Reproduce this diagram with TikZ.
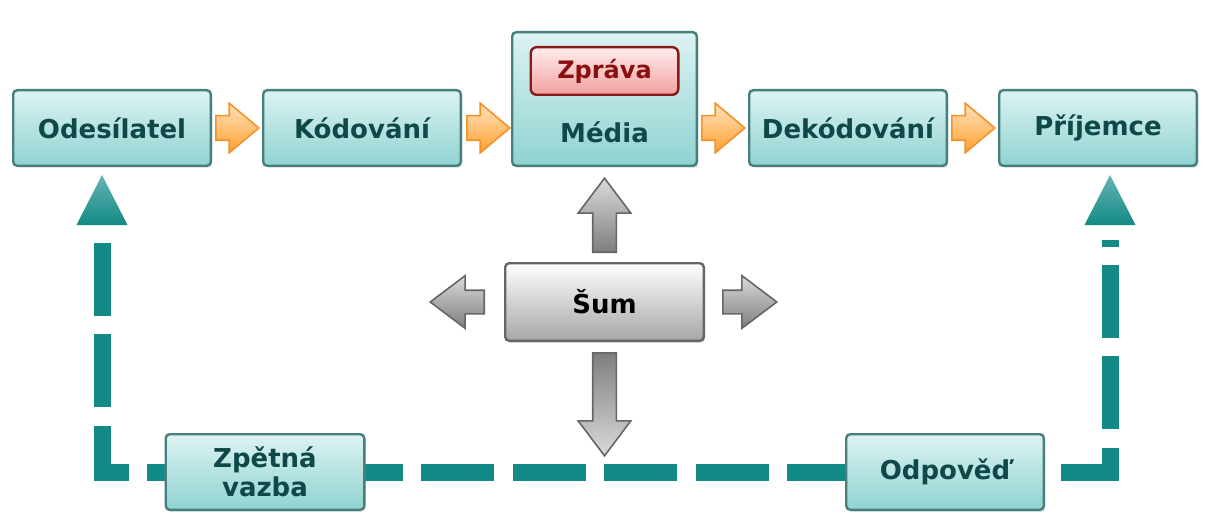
\documentclass[tikz,border=0pt]{standalone}
\usepackage{fontspec}
\setmainfont{DejaVu Sans}
\usetikzlibrary{positioning,shapes.arrows,backgrounds,shadows}

\definecolor{boxtop}{HTML}{DDF3F2}
\definecolor{boxbot}{HTML}{8FD3D1}
\definecolor{boxline}{HTML}{467F7E}
\definecolor{boxtext}{HTML}{0E4848}
\definecolor{msgtop}{HTML}{FFEDED}
\definecolor{msgbot}{HTML}{F3A0A0}
\definecolor{msgline}{HTML}{8A1A1A}
\definecolor{msgtext}{HTML}{8A1010}
\definecolor{noisebot}{HTML}{A6A6A6}
\definecolor{noiseline}{HTML}{666666}
\definecolor{arrlight}{HTML}{DADADA}
\definecolor{arrdark}{HTML}{7E7E7E}
\definecolor{orlight}{HTML}{FFE2BC}
\definecolor{ordark}{HTML}{FFA030}
\definecolor{orline}{HTML}{F39227}
\definecolor{fbteal}{HTML}{138A86}

\begin{document}
\begin{tikzpicture}[x=0.5pt,y=-0.5pt,node distance=25pt,
    font=\bfseries\fontsize{13}{14.5}\selectfont,
    stage/.style={rectangle, rounded corners=2pt, draw=boxline, line width=1.2pt,
        top color=boxtop, bottom color=boxbot, text=boxtext, align=center,
        minimum width=98.8pt, minimum height=37.8pt,
        drop shadow={opacity=0.2, shadow xshift=0.8pt, shadow yshift=-1pt}},
    msg/.style={rectangle, rounded corners=3pt, draw=msgline, line width=1.2pt,
        top color=msgtop, bottom color=msgbot, text=msgtext,
        minimum width=73.8pt, minimum height=23.8pt,
        font=\bfseries\fontsize{12}{14}\selectfont},
    noise/.style={rectangle, rounded corners=2pt, draw=noiseline, line width=1.2pt,
        top color=white, bottom color=noisebot, text=black,
        minimum width=99.3pt, minimum height=38.8pt,
        drop shadow={opacity=0.2, shadow xshift=0.8pt, shadow yshift=-1pt}},
    flow/.style={single arrow, draw=orline, line width=0.8pt, anchor=tail,
        top color=orlight, bottom color=ordark, inner sep=5.75pt,
        minimum height=21.5pt, minimum width=24pt,
        single arrow head extend=6.25pt, single arrow tip angle=80},
    garrow/.style={single arrow, draw=noiseline, line width=0.8pt, anchor=tail,
        inner sep=5.5pt, minimum width=25.5pt,
        single arrow head extend=7.25pt, single arrow tip angle=74},
    feedback/.style={draw=fbteal, line width=8.5pt, line join=miter,
        dash pattern=on 36.5pt off 9.2pt},
    fbhead/.style={top color=fbteal!65!white, bottom color=fbteal}]

    \useasboundingbox (0,0) rectangle (1208,513);

    \node[stage] (ode) at (112,128) {Odesílatel};
    \node[stage, right=of ode] (kod) {Kódování};
    \node[stage, minimum width=92.3pt, minimum height=66.8pt, text height=44pt, text depth=0pt,
          right=24.5pt of kod.south east, anchor=south west] (med) {Média};
    \node[msg, below=7.5pt of med.north] (zpr) {Zpráva};
    \node[stage, right=of med.south east, anchor=south west] (dek) {Dekódování};
    \node[stage, right=of dek] (pri) {Příjemce};

    \node[noise, below=47.5pt of med] (sum) {Šum};
    \node[stage, minimum width=99.3pt] (zpet) at (265,472) {Zpětná\\vazba};
    \node[stage] (odp) at (945,472) {Odpověď};

    \node[flow] (f1) at ([xshift=1.5pt]ode.east) {};
    \node[flow] (f2) at ([xshift=2pt]kod.east) {};
    \node[flow] (f3) at ([xshift=1.5pt]med.east |- dek.east) {};
    \node[flow] (f4) at ([xshift=1.5pt]dek.east) {};

    \node[garrow, minimum height=37pt, shape border rotate=90, top color=arrlight, bottom color=arrdark]
        (nup) at ([yshift=4.5pt]sum.north) {};
    \node[garrow, minimum height=27pt, shape border rotate=180, top color=arrlight, bottom color=arrdark]
        (nleft) at ([xshift=-9.5pt]sum.west) {};
    \node[garrow, minimum height=27pt, top color=arrlight, bottom color=arrdark]
        (nright) at ([xshift=8.5pt]sum.east) {};
    \node[garrow, minimum height=51.5pt, shape border rotate=270, top color=arrdark, bottom color=arrlight]
        (ndown) at ([yshift=-5pt]sum.south) {};

    \coordinate (fbl) at ([xshift=-5pt,yshift=-4pt]ode.south);
    \coordinate (fbr) at ([xshift=6pt,yshift=-4pt]pri.south);
    \foreach \c in {fbl,fbr}
        \shade[fbhead] (\c) -- ++(12.75pt,-25pt) -- ++(-25.5pt,0pt) -- cycle;
    \begin{scope}[on background layer]
        \draw[feedback] ([yshift=-34pt]fbl) |- (zpet.center) -- (odp.center) -| ([yshift=-32.5pt]fbr);
    \end{scope}
\end{tikzpicture}
\end{document}
